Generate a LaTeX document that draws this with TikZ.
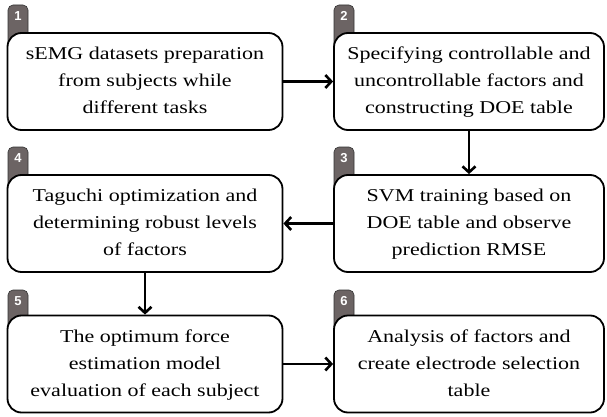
\documentclass[tikz,border=0pt]{standalone}
\usepackage{fontspec}
\setmainfont{Liberation Serif}
\newfontfamily\stepserif{Liberation Serif}
\newfontfamily\stepsans{Liberation Sans}
\usetikzlibrary{arrows.meta}
\definecolor{tabgray}{RGB}{108,100,100}
\tikzset{
  stepbox/.style={draw=black, line width=1.8pt, fill=white, rounded corners=14pt,
    minimum height=97pt, align=center, inner sep=0pt,
    font=\stepserif\fontsize{22}{33}\selectfont},
  leftbox/.style={stepbox, minimum width=275pt},
  rightbox/.style={stepbox, minimum width=270pt},
  steptab/.style={fill=tabgray, draw=black!80, line width=0.6pt, rounded corners=5pt},
  tabnum/.style={text=white, font=\stepsans\bfseries\fontsize{13}{13}\selectfont, inner sep=0pt},
  flow/.style={line width=2.6pt, -{Straight Barb[length=6pt,width=13pt,line width=2.6pt]}}
}
% lettering of a box, set a little flatter than it is wide
\newcommand{\steptext}[1]{\scalebox{1}[0.82]{\begin{tabular}{@{}c@{}}#1\end{tabular}}}
% tab behind a box: left edge, top of tab, label, name
\newcommand{\steptabdraw}[4]{%
  \path[steptab] (#1,#2) rectangle (#1+20,#2+45);
  \node[tabnum] (#4) at (#1+10,#2+11) {#3};
}
\begin{document}
\begin{tikzpicture}[x=1pt,y=-1pt]
\useasboundingbox (0,0) rectangle (607,417);

% numbered tabs
\steptabdraw{8}{5}{1}{t1}
\steptabdraw{334}{5}{2}{t2}
\steptabdraw{334}{147}{3}{t3}
\steptabdraw{8}{147}{4}{t4}
\steptabdraw{8}{290}{5}{t5}
\steptabdraw{334}{290}{6}{t6}

% process boxes
\node[leftbox]  (b1) at (145,81.5)  {\steptext{sEMG datasets preparation\\from subjects while\\different tasks}};
\node[rightbox] (b2) at (469,81.5)  {\steptext{Specifying controllable and\\uncontrollable factors and\\constructing DOE table}};
\node[rightbox] (b3) at (469,223.5) {\steptext{SVM training based on\\DOE table and observe\\prediction RMSE}};
\node[leftbox]  (b4) at (145,223.5) {\steptext{Taguchi optimization and\\determining robust levels\\of factors}};
\node[leftbox]  (b5) at (145,364)   {\steptext{The optimum force\\estimation model\\evaluation of each subject}};
\node[rightbox] (b6) at (469,364)   {\steptext{Analysis of factors and\\create electrode selection\\table}};

% connectors
\draw[flow] (b1.east) -- (b2.west);
\draw[flow] (b2.south) -- (b3.north);
\draw[flow] (b3.west) -- (b4.east);
\draw[flow] (b4.south) -- (b5.north);
\draw[flow] (b5.east) -- (b6.west);
\end{tikzpicture}
\end{document}
